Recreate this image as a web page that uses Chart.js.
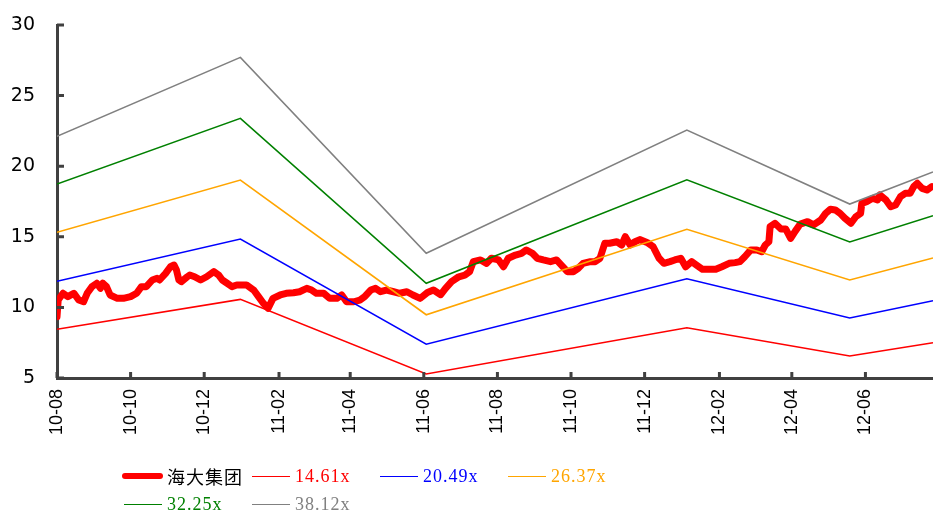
<!DOCTYPE html>
<html>
<head>
<meta charset="utf-8">
<script src="https://cdn.jsdelivr.net/npm/chart.js@4.4.0/dist/chart.umd.min.js"></script>
<style>
  body { margin: 0; background: #fff; }
  #wrap { position: relative; width: 933px; height: 514px; }
  #legend {
    position: absolute; left: 122px; top: 462px;
    display: grid; grid-template-columns: repeat(4, 128px); grid-auto-rows: 28px;
  }
  .item { display: flex; align-items: center; font: 18px "Liberation Serif", "Noto Sans CJK SC", serif; letter-spacing: 1px; white-space: nowrap; }
  .swatch { width: 38px; margin: 0 5px 0 2px; }
  .swatch.thick { width: 41px; height: 6px; border-radius: 3px; margin-left: 0; margin-right: 4px; }
</style>
</head>
<body>
<div id="wrap">
  <canvas id="chart" width="933" height="514"></canvas>
  <div id="legend"></div>
</div>
<script>
// Axis ticks
const tickLabels = ['10-08', '10-10', '10-12', '11-02', '11-04', '11-06', '11-08', '11-10', '11-12', '12-02', '12-04', '12-06'];
const startDate = '2010-08-01';
const endDate = '2012-07-27';

// PE band lines (vertices)
const bandDates = ['2010-08-01', '2010-12-31', '2011-06-03', '2012-01-05', '2012-05-19', '2012-07-27'];
const pe1461 = [8.45, 10.57, 5.28, 8.56, 6.56, 7.50];
const pe2049 = [11.85, 14.84, 7.39, 12.03, 9.25, 10.47];
const pe2637 = [15.32, 19.02, 9.48, 15.53, 11.94, 13.50];
const pe3225 = [18.74, 23.39, 11.71, 19.04, 14.63, 16.49];
const pe3812 = [22.12, 27.71, 13.83, 22.56, 17.32, 19.59];

// Share price, days counted from startDate
const priceDay = [0,1,5,9,14,18,22,25,29,33,36,38,41,44,50,55,61,66,70,74,79,83,85,90,94,97,99,101,103,108,110,114,119,124,130,134,137,141,145,149,152,157,163,167,171,175,179,185,190,196,201,207,211,215,221,226,232,236,240,246,251,255,260,264,268,273,279,284,290,295,301,307,312,318,322,327,333,338,342,345,351,356,360,366,370,374,380,385,389,394,398,403,409,414,418,423,428,432,436,442,446,450,454,458,464,468,471,475,479,483,489,494,499,503,508,512,517,521,526,530,535,540,546,551,557,562,566,570,575,580,584,587,590,591,595,600,604,608,612,616,622,627,633,637,641,645,649,653,658,662,666,667,671,676,680,682,687,691,695,699,703,707,710,713,717,721,725];
const priceValue = [9.34,10.52,11.00,10.76,11.00,10.52,10.40,11.00,11.47,11.71,11.35,11.71,11.47,10.88,10.64,10.64,10.76,11.00,11.47,11.47,11.94,12.06,11.94,12.41,12.88,13.00,12.65,11.94,11.82,12.17,12.29,12.17,11.94,12.17,12.53,12.29,11.94,11.71,11.47,11.59,11.59,11.59,11.23,10.76,10.29,9.94,10.64,10.88,11.00,11.04,11.11,11.35,11.23,11.00,11.00,10.64,10.64,10.88,10.40,10.40,10.52,10.76,11.23,11.35,11.11,11.23,11.11,11.00,11.11,10.88,10.64,11.05,11.23,10.90,11.35,11.82,12.17,12.29,12.53,13.24,13.36,13.12,13.48,13.36,12.88,13.48,13.71,13.83,14.07,13.83,13.48,13.36,13.24,13.36,13.00,12.53,12.53,12.77,13.12,13.24,13.24,13.48,14.54,14.54,14.65,14.42,15.01,14.42,14.65,14.80,14.60,14.30,13.48,13.12,13.24,13.36,13.48,12.88,13.24,13.00,12.70,12.70,12.70,12.88,13.12,13.17,13.24,13.59,14.07,14.07,13.94,14.42,14.65,15.72,15.96,15.55,15.55,14.89,15.42,15.90,16.07,15.84,16.19,16.66,16.95,16.90,16.66,16.31,15.96,16.42,16.66,17.37,17.49,17.73,17.61,17.96,17.61,17.13,17.25,17.84,18.08,18.08,18.55,18.79,18.43,18.31,18.55];

const seriesNames = ['海大集团', '14.61x', '20.49x', '26.37x', '32.25x', '38.12x'];
const seriesColors = ['#ff0000', '#ff0000', '#0000ff', '#ffa500', '#008000', '#808080'];
const axisColor = '#404040';

const DAY = 86400000;
const t0 = Date.parse(startDate);
function dayOf(s) { return (Date.parse(s) - t0) / DAY; }
function monthDay(label) {
  const [yy, mm] = label.split('-').map(Number);
  return (Date.UTC(2000 + yy, mm - 1, 1) - t0) / DAY;
}
const tickDays = tickLabels.map(monthDay);

function bandPoints(values) {
  return bandDates.map((d, i) => ({ x: dayOf(d), y: values[i] }));
}

const bands = [pe1461, pe2049, pe2637, pe3225, pe3812];
const datasets = bands.map((vals, i) => ({
  label: seriesNames[i + 1],
  data: bandPoints(vals),
  borderColor: seriesColors[i + 1],
  borderWidth: 1.6,
  pointRadius: 0,
  tension: 0
}));
// price line goes last so the bands are drawn over it
datasets.push({
  label: seriesNames[0],
  data: priceDay.map((d, i) => ({ x: d, y: priceValue[i] })),
  borderColor: seriesColors[0],
  borderWidth: 7,
  borderJoinStyle: 'round',
  borderCapStyle: 'round',
  pointRadius: 0,
  tension: 0
});

// short tick marks pointing into the plot
const inwardTicks = {
  id: 'inwardTicks',
  afterDraw(chart) {
    const { ctx, scales: { x, y } } = chart;
    ctx.save();
    ctx.strokeStyle = axisColor;
    ctx.lineWidth = 3;
    ctx.beginPath();
    x.ticks.forEach(t => {
      const px = x.getPixelForValue(t.value);
      ctx.moveTo(px, x.top);
      ctx.lineTo(px, x.top - 6);
    });
    y.ticks.forEach(t => {
      const py = y.getPixelForValue(t.value);
      ctx.moveTo(y.right, py);
      ctx.lineTo(y.right + 7, py);
    });
    ctx.stroke();
    ctx.restore();
  }
};

new Chart(document.getElementById('chart'), {
  type: 'line',
  data: { datasets },
  plugins: [inwardTicks],
  options: {
    responsive: false,
    animation: false,
    events: [],
    layout: { padding: { top: 25, right: 0, left: 0, bottom: 0 } },
    plugins: { legend: { display: false }, tooltip: { enabled: false } },
    scales: {
      x: {
        type: 'linear',
        min: 0,
        max: dayOf(endDate),
        afterFit(scale) { scale.height = 136; },
        afterBuildTicks(scale) { scale.ticks = tickDays.map(v => ({ value: v })); },
        grid: { display: true, drawOnChartArea: false, drawTicks: false },
        border: { display: true, color: axisColor, width: 3 },
        ticks: {
          autoSkip: false,
          minRotation: 90,
          maxRotation: 90,
          padding: 11,
          color: '#000',
          font: { family: 'Liberation Sans, Arial, sans-serif', size: 18 },
          callback: v => tickLabels[tickDays.indexOf(v)]
        }
      },
      y: {
        min: 5,
        max: 30,
        afterFit(scale) { scale.width = 57; },
        // invisible tick length keeps the label gap without padding the top
        grid: { display: true, drawOnChartArea: false, drawTicks: true, tickLength: 16, tickColor: 'rgba(0,0,0,0)' },
        border: { display: true, color: axisColor, width: 3 },
        ticks: {
          stepSize: 5,
          padding: 6,
          color: '#000',
          font: { family: 'DejaVu Sans, sans-serif', size: 19 }
        }
      }
    }
  }
});

// legend laid out in columns like the original
const legendEl = document.getElementById('legend');
seriesNames.forEach((name, i) => {
  const item = document.createElement('div');
  item.className = 'item';
  const sw = document.createElement('span');
  sw.className = 'swatch' + (i === 0 ? ' thick' : '');
  if (i === 0) sw.style.background = seriesColors[i];
  else sw.style.borderTop = '1.5px solid ' + seriesColors[i];
  const txt = document.createElement('span');
  txt.textContent = name;
  txt.style.color = i === 0 ? '#000' : seriesColors[i];
  item.appendChild(sw);
  item.appendChild(txt);
  legendEl.appendChild(item);
});
</script>
</body>
</html>
